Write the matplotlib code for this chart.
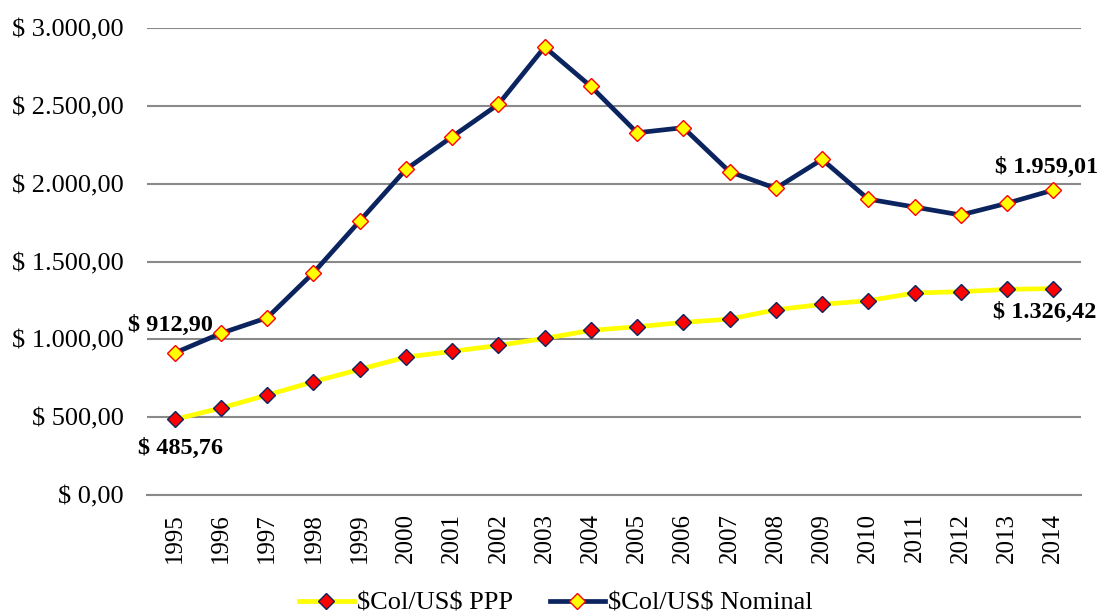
import numpy as np
import matplotlib.pyplot as plt

plt.rcParams['font.family'] = ['Liberation Serif', 'DejaVu Serif']

# --- Data ---
years = [str(y) for y in range(1995, 2015)]
ppp = [485.76, 559, 642, 728, 807, 886, 923, 961, 1006, 1058,
       1081, 1109, 1130, 1190, 1225, 1248, 1298, 1306, 1321, 1326.42]
nominal = [912.90, 1039, 1139, 1428, 1760, 2092, 2302, 2510, 2878, 2625,
           2327, 2360, 2077, 1970, 2156, 1901, 1850, 1799, 1874, 1959.01]
yticks = [0, 500, 1000, 1500, 2000, 2500, 3000]


def money(v):
    # 1234.5 -> "1.234,50"
    s = f"{v:,.2f}"
    return "$ " + s.replace(",", "X").replace(".", ",").replace("X", ".")


navy = '#0B2460'
yellow = '#FFFF00'
red = '#FF0000'
grid = '#898989'

fig = plt.figure(figsize=(11.03, 6.16), dpi=100)
ax = fig.add_axes([0.1333, 0.1964, 0.8467, 0.7581])

x = np.arange(len(years))
ax.plot(x, ppp, color=yellow, lw=3.4, marker='D', ms=8.5,
        mfc=red, mec=navy, mew=1.0, label=r'\$Col/US\$ PPP', zorder=3)
ax.plot(x, nominal, color=navy, lw=3.4, marker='D', ms=8.5,
        mfc=yellow, mec=red, mew=1.0, label=r'\$Col/US\$ Nominal', zorder=4)

ax.set_xlim(-0.6, len(years) - 0.4)
ax.set_ylim(0, 3000)
ax.set_yticks(yticks)
ax.set_yticklabels([money(v) for v in yticks], fontsize=19)
ax.set_xticks(x)
ax.set_xticklabels(years, rotation=90, fontsize=18)
ax.tick_params(axis='both', length=0)
ax.tick_params(axis='y', pad=16.5)
ax.tick_params(axis='x', pad=13)

ax.yaxis.grid(True, color=grid, lw=1.5)
ax.set_axisbelow(True)
for side in ['top', 'right', 'left']:
    ax.spines[side].set_visible(False)
ax.spines['bottom'].set_color(grid)
ax.spines['bottom'].set_linewidth(1.5)

# data labels on first and last points
kw = dict(textcoords='offset pixels', ha='center', va='center',
          fontsize=17.5, fontweight='bold', annotation_clip=False)
ax.annotate(money(nominal[0]), (x[0], nominal[0]), xytext=(-4, 27), **kw)
ax.annotate(money(ppp[0]), (x[0], ppp[0]), xytext=(6, -29), **kw)
ax.annotate(money(nominal[-1]), (x[-1], nominal[-1]), xytext=(-7, 23), **kw)
ax.annotate(money(ppp[-1]), (x[-1], ppp[-1]), xytext=(-9, -24), **kw)

fig.legend(loc='center', bbox_to_anchor=(0.5036, 0.021), ncol=2,
           frameon=False, fontsize=19, handlelength=2.1, handletextpad=0.1,
           columnspacing=1.4)

fig.savefig('out.png', dpi=100)
